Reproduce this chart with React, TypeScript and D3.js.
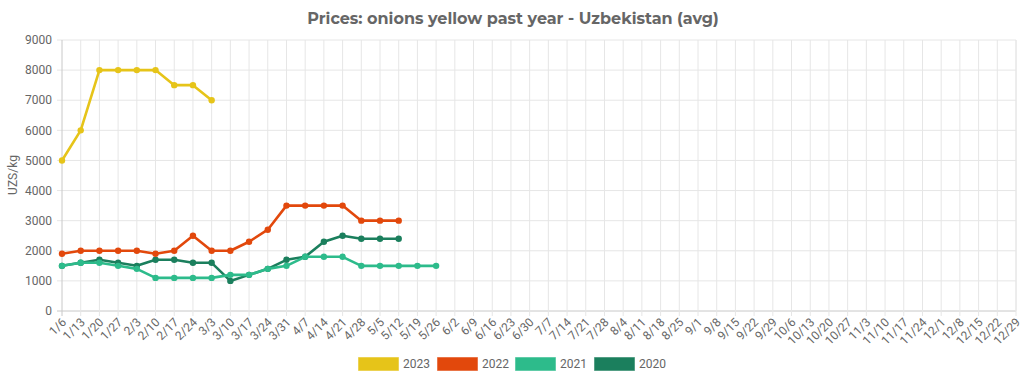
import React from "react";
import * as d3 from "d3";

const categories: string[] = [
  "1/6","1/13","1/20","1/27","2/3","2/10","2/17","2/24","3/3","3/10","3/17","3/24","3/31",
  "4/7","4/14","4/21","4/28","5/5","5/12","5/19","5/26","6/2","6/9","6/16","6/23","6/30",
  "7/7","7/14","7/21","7/28","8/4","8/11","8/18","8/25","9/1","9/8","9/15","9/22","9/29",
  "10/6","10/13","10/20","10/27","11/3","11/10","11/17","11/24","12/1","12/8","12/15","12/22","12/29"
];

const values2023: number[] = [5000, 6000, 8000, 8000, 8000, 8000, 7500, 7500, 7000];
const values2022: number[] = [1900, 2000, 2000, 2000, 2000, 1900, 2000, 2500, 2000, 2000, 2300, 2700, 3500, 3500, 3500, 3500, 3000, 3000, 3000];
const values2021: number[] = [1500, 1600, 1600, 1500, 1400, 1100, 1100, 1100, 1100, 1200, 1200, 1400, 1500, 1800, 1800, 1800, 1500, 1500, 1500, 1500, 1500];
const values2020: number[] = [1500, 1600, 1700, 1600, 1500, 1700, 1700, 1600, 1600, 1000, 1200, 1400, 1700, 1800, 2300, 2500, 2400, 2400, 2400];

const yTicks: number[] = [0, 1000, 2000, 3000, 4000, 5000, 6000, 7000, 8000, 9000];

const seriesNames: string[] = ["2023", "2022", "2021", "2020"];
const seriesColors: string[] = ["#e6c419", "#e2480c", "#2dbb8b", "#1b7f5d"];

const title = "Prices: onions yellow past year - Uzbekistan (avg)";
const yLabel = "UZS/kg";

export default function App() {
  const W = 1024, H = 379;
  const left = 62, right = 1016, top = 40, bottom = 311;
  const x = d3.scalePoint<string>().domain(categories).range([left, right]);
  const y = d3.scaleLinear().domain([0, 9000]).range([bottom, top]);
  const series = [values2023, values2022, values2021, values2020];
  const line = d3.line<number>()
    .x((_, i) => x(categories[i]) as number)
    .y((d) => y(d));
  const font = "Roboto, 'Open Sans', sans-serif";
  const legendX = [358, 437, 515, 594];

  return (
    <svg width={W} height={H} style={{ position: "absolute", left: 0, top: 0 }}>
      <rect width={W} height={H} fill="#ffffff" />
      <text x={513} y={24} textAnchor="middle" fontFamily="Montserrat, 'Open Sans', sans-serif" fontWeight={700} fontSize={16} fill="#666666">
        {title}
      </text>
      {/* horizontal gridlines */}
      {yTicks.map((t) => (
        <g key={"y" + t}>
          <line x1={left - 5} x2={right} y1={y(t)} y2={y(t)} stroke={t === 0 ? "#c8c8c8" : "#e6e6e6"} strokeWidth={1} />
          <text x={52} y={y(t)} dy="0.35em" textAnchor="end" fontFamily={font} fontSize={12} fill="#666666">{t}</text>
        </g>
      ))}
      {/* vertical gridlines */}
      {categories.map((c, i) => (
        <g key={"x" + c}>
          <line x1={x(c)} x2={x(c)} y1={top} y2={bottom + 5} stroke={i === 0 ? "#c8c8c8" : "#e6e6e6"} strokeWidth={1} />
          <text transform={`translate(${(x(c) as number) + 2},${bottom + 9}) rotate(-45)`} dy="0.35em" textAnchor="end" fontFamily={font} fontSize={12} fill="#666666">{c}</text>
        </g>
      ))}
      <line x1={right} x2={right} y1={top} y2={bottom} stroke="#e6e6e6" />
      <text transform={`translate(13,175) rotate(-90)`} textAnchor="middle" dy="0.35em" fontFamily={font} fontSize={12} fill="#666666">{yLabel}</text>
      {/* series, drawn in reverse so 2023 is on top */}
      {series.map((vals, si) => ({ vals, si })).reverse().map(({ vals, si }) => (
        <g key={"s" + si}>
          <path d={line(vals) || ""} fill="none" stroke={seriesColors[si]} strokeWidth={2.6} strokeLinejoin="round" />
          {vals.map((v, i) => (
            <circle key={i} cx={x(categories[i])} cy={y(v)} r={3.2} fill={seriesColors[si]} />
          ))}
        </g>
      ))}
      {/* legend */}
      {seriesNames.map((n, i) => (
        <g key={"l" + n}>
          <rect x={legendX[i] + 0.5} y={357.5} width={40} height={13} fill={seriesColors[i]} stroke={seriesColors[i]} strokeOpacity={0.5} strokeWidth={1} />
          <text x={legendX[i] + 45} y={364} dy="0.35em" fontFamily={font} fontSize={12} fill="#666666">{n}</text>
        </g>
      ))}
    </svg>
  );
}
